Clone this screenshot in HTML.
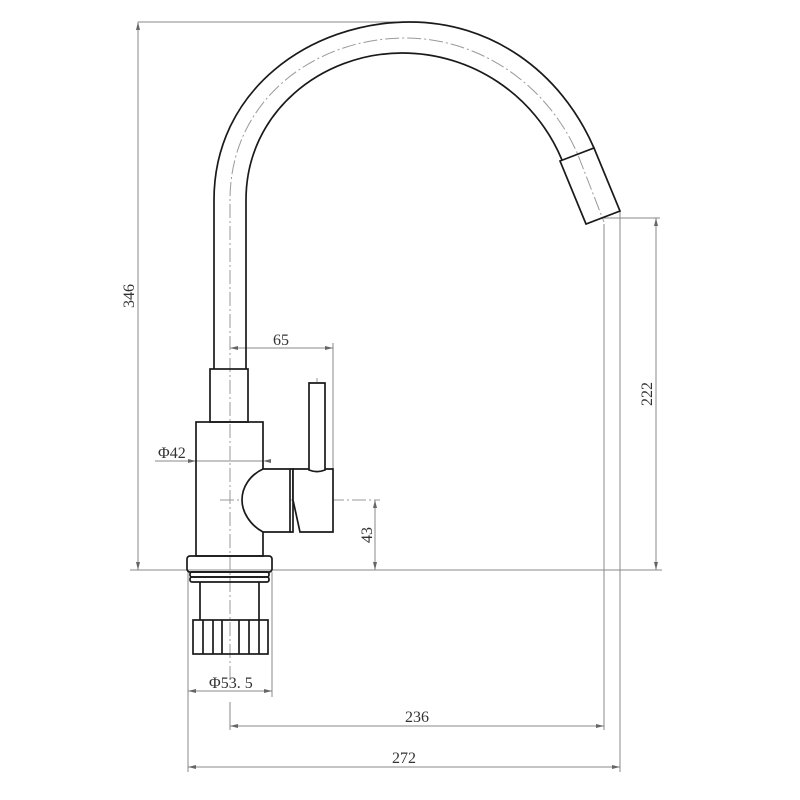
<!DOCTYPE html>
<html><head><style>html,body{margin:0;padding:0;background:#fff}svg{display:block}</style></head>
<body>
<svg width="800" height="800" viewBox="0 0 800 800" xmlns="http://www.w3.org/2000/svg">
<g fill="none" stroke="#888" stroke-width="1">
<line x1="138" y1="22" x2="410" y2="22"/>
<line x1="138" y1="22" x2="138" y2="570"/>
<line x1="130" y1="570" x2="662" y2="570"/>
<line x1="604" y1="218" x2="660" y2="218"/>
<line x1="656" y1="218" x2="656" y2="570"/>
<line x1="604" y1="224" x2="604" y2="730"/>
<line x1="620" y1="211" x2="620" y2="772"/>
<line x1="230" y1="702" x2="230" y2="730"/>
<line x1="230" y1="726" x2="604" y2="726"/>
<line x1="188" y1="572" x2="188" y2="772"/>
<line x1="272" y1="572" x2="272" y2="697"/>
<line x1="188" y1="691" x2="272" y2="691"/>
<line x1="188" y1="767" x2="620" y2="767"/>
<line x1="230" y1="348" x2="333" y2="348"/>
<line x1="333" y1="343" x2="333" y2="470"/>
<line x1="155" y1="461" x2="263" y2="461"/>
<line x1="375" y1="500" x2="375" y2="570"/>
</g>
<g fill="#666" stroke="none">
<path d="M138,22 l-2,8 h4z"/><path d="M138,570 l-2,-8 h4z"/>
<path d="M656,218 l-2,8 h4z"/><path d="M656,570 l-2,-8 h4z"/>
<path d="M230,726 l8,-2 v4z"/><path d="M604,726 l-8,-2 v4z"/>
<path d="M188,767 l8,-2 v4z"/><path d="M620,767 l-8,-2 v4z"/>
<path d="M188,691 l8,-2 v4z"/><path d="M272,691 l-8,-2 v4z"/>
<path d="M230,348 l8,-2 v4z"/><path d="M333,348 l-8,-2 v4z"/>
<path d="M196,461 l-8,-2 v4z"/><path d="M263,461 l8,-2 v4z"/>
<path d="M375,500 l-2,8 h4z"/><path d="M375,570 l-2,-8 h4z"/>
</g>
<g fill="none" stroke="#999" stroke-width="1" stroke-dasharray="14,3,2,3">
<path d="M230,680 L230,200 C230,100 315,38 405,38 C480,38 548,85 578,155 L604,222"/>
<line x1="220" y1="500" x2="380" y2="500"/>
<line x1="317" y1="378" x2="317" y2="520"/>
</g>
<g fill="none" stroke="#1a1a1a" stroke-width="1.7">
<path d="M214,369 L214,200 C214,90 310,22 410,22 C490,22 560,70 594,148"/>
<path d="M246,369 L246,200 C246,112 322,53 402,53 C472,53 535,95 562,160"/>
<polygon points="560,161 594,148 620,211 586,224"/>
<rect x="210" y="369" width="38" height="53"/>
<rect x="196" y="422" width="67" height="134"/>
<path d="M263,469 L290,469 L290,532 L263,532 C250,525 242,512 242,500 C242,487 250,475 263,469Z" fill="#fff"/>
<path d="M290,469 L293,469 L293,532 L290,532"/>
<path d="M293,469 L333,469 L333,532 L300,532 L293,500Z" fill="#fff"/>
<path d="M309,470 L309,383 L325,383 L325,470 C320,472 314,472 309,470Z" fill="#fff"/>
<rect x="187" y="556" width="85" height="16" rx="3"/>
<rect x="190" y="572" width="79" height="5" rx="2"/>
<rect x="190" y="577" width="79" height="5" rx="2"/>
<line x1="200" y1="582" x2="200" y2="620"/>
<line x1="259" y1="582" x2="259" y2="620"/>
<rect x="193" y="620" width="75" height="34"/>
<line x1="203" y1="620" x2="203" y2="654"/>
<line x1="213" y1="620" x2="213" y2="654"/>
<line x1="222" y1="620" x2="222" y2="654"/>
<line x1="239" y1="620" x2="239" y2="654"/>
<line x1="249" y1="620" x2="249" y2="654"/>
<line x1="259" y1="620" x2="259" y2="654"/>
</g>
<g font-family="Liberation Serif, serif" font-size="16" fill="#333">
<text x="281" y="345" text-anchor="middle">65</text>
<text x="158" y="458">Φ42</text>
<text x="209" y="688">Φ53. 5</text>
<text x="417" y="722" text-anchor="middle">236</text>
<text x="404" y="763" text-anchor="middle">272</text>
<text transform="translate(134,296) rotate(-90)" text-anchor="middle">346</text>
<text transform="translate(652,394) rotate(-90)" text-anchor="middle">222</text>
<text transform="translate(372,535) rotate(-90)" text-anchor="middle">43</text>
</g>
</svg>
</body></html>
